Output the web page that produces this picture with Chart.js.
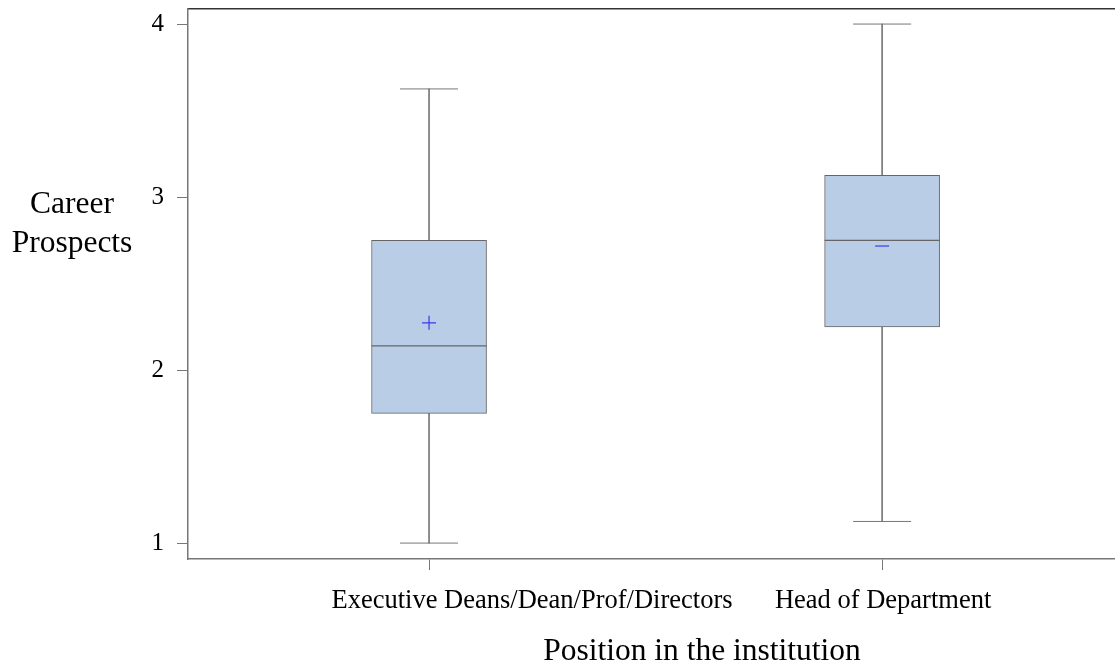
<!DOCTYPE html>
<html>
<head>
<meta charset="utf-8">
<script src="https://cdn.jsdelivr.net/npm/chart.js@4/dist/chart.umd.min.js"></script>
<style>
  body { margin: 0; background: #fff; }
</style>
</head>
<body>
<canvas id="chart" width="1115" height="668"></canvas>
<script>
// box plot summary per position
const categories = ['Executive Deans/Dean/Prof/Directors', 'Head of Department']
const positions = [1, 2]
const mins = [1.0, 1.125]
const q1s = [1.75, 2.25]
const medians = [2.14, 2.75]
const q3s = [2.75, 3.125]
const maxs = [3.625, 4.0]
const means = [2.273, 2.717]
const yTicks = [1, 2, 3, 4]

const serif = '"Liberation Serif", "Times New Roman", serif'
const axisGrey = '#777'

// text the axes can't place the way the reference does
const textPlugin = {
    id: 'texts',
    afterDraw(chart) {
        const ctx = chart.ctx
        const x = chart.scales.x
        ctx.save()
        ctx.fillStyle = '#000'
        ctx.textAlign = 'center'
        ctx.textBaseline = 'alphabetic'
        ctx.font = '26.5px ' + serif
        // first label sits right of its tick in the original
        const shift = [103, 1]
        categories.forEach((c, i) => {
            ctx.fillText(c, x.getPixelForValue(positions[i]) + shift[i], 608)
        })
        ctx.font = '31.5px ' + serif
        ctx.fillText('Position in the institution', 702, 660)
        ctx.fillText('Career', 72, 213)
        ctx.fillText('Prospects', 72, 252)
        ctx.restore()
    }
}

const pts = (ys) => positions.map((p, i) => ({ x: p, y: ys[i] }))

new Chart(document.getElementById('chart'), {
    type: 'bar',
    data: {
        datasets: [
            {
                // whisker stems
                data: positions.map((p, i) => ({ x: p, y: [mins[i], maxs[i]] })),
                backgroundColor: axisGrey,
                barThickness: 1,
                grouped: false,
                order: 5
            },
            {
                // boxes
                data: positions.map((p, i) => ({ x: p, y: [q1s[i], q3s[i]] })),
                backgroundColor: 'rgb(185,206,230)',
                borderColor: '#666',
                borderWidth: 1,
                borderSkipped: false,
                barThickness: 115,
                grouped: false,
                order: 4
            },
            {
                type: 'line',
                data: pts(medians),
                showLine: false,
                pointStyle: 'line',
                pointRadius: 57.5,
                borderColor: '#666',
                borderWidth: 1.2,
                order: 3
            },
            {
                type: 'line',
                data: pts(mins).concat(pts(maxs)),
                showLine: false,
                pointStyle: 'line',
                pointRadius: 29,
                borderColor: axisGrey,
                borderWidth: 1,
                order: 2
            },
            {
                type: 'line',
                data: pts(means),
                showLine: false,
                pointStyle: ['cross', 'line'],
                pointRadius: 7,
                borderColor: '#3a3ae6',
                borderWidth: 1.2,
                order: 1
            }
        ]
    },
    options: {
        responsive: false,
        animation: false,
        layout: { autoPadding: false, padding: { top: 9, left: 0, right: 0, bottom: 0 } },
        plugins: { legend: { display: false }, tooltip: { enabled: false } },
        scales: {
            x: {
                type: 'linear',
                min: 0.468,
                max: 2.514,
                offset: false,
                afterBuildTicks: (s) => { s.ticks = positions.map(v => ({ value: v })) },
                afterFit: (s) => { s.height = 109; s.paddingLeft = 0; s.paddingRight = 0 },
                ticks: { display: false },
                grid: { offset: false, drawOnChartArea: false, drawTicks: true, tickLength: 11, color: axisGrey },
                border: { display: true, color: axisGrey, width: 1.5 }
            },
            x2: {
                type: 'linear',
                position: 'top',
                min: 0.468,
                max: 2.514,
                offset: false,
                afterFit: (s) => { s.height = 0; s.paddingLeft = 0; s.paddingRight = 0 },
                ticks: { display: false },
                grid: { display: false },
                border: { display: true, color: '#333', width: 1.5 }
            },
            y: {
                type: 'linear',
                min: 0.908,
                max: 4.087,
                afterBuildTicks: (s) => { s.ticks = yTicks.map(v => ({ value: v })) },
                afterFit: (s) => { s.width = 188; s.paddingTop = 0; s.paddingBottom = 0 },
                ticks: { color: '#000', font: { family: serif, size: 25 }, padding: 13 },
                grid: { drawOnChartArea: false, drawTicks: true, tickLength: 11, color: axisGrey },
                border: { display: true, color: axisGrey, width: 1.5 }
            }
        }
    },
    plugins: [textPlugin]
})
</script>
</body>
</html>
